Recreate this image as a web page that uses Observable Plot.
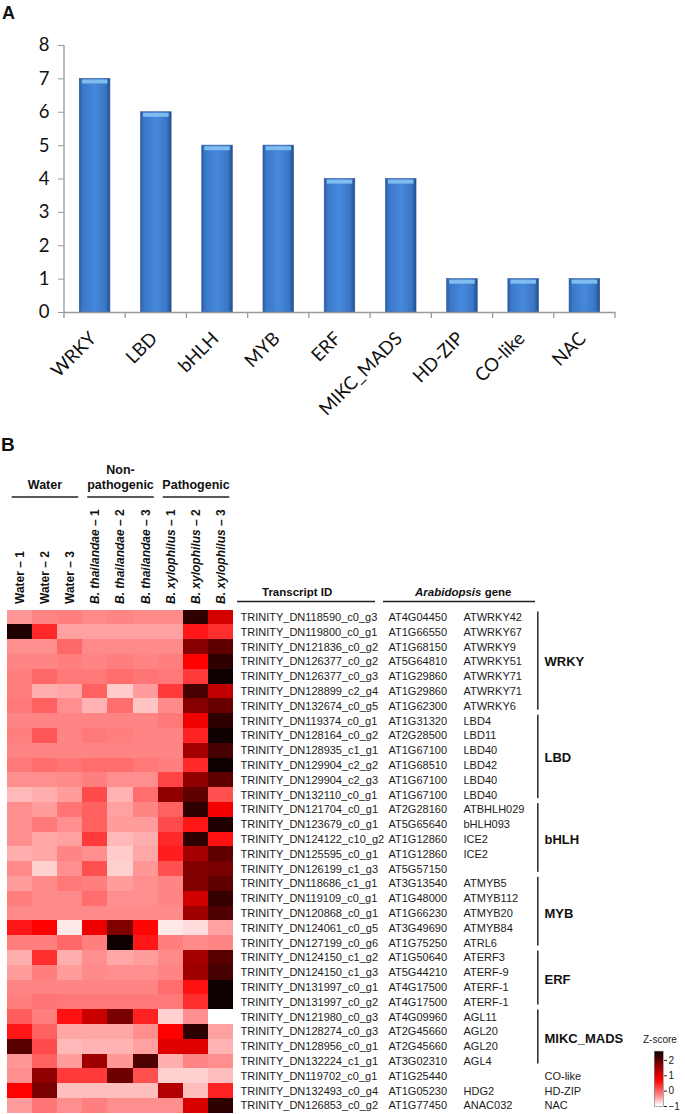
<!DOCTYPE html>
<html><head><meta charset="utf-8">
<script src="https://cdn.jsdelivr.net/npm/d3@7"></script>
<script src="https://cdn.jsdelivr.net/npm/@observablehq/plot@0.6"></script>
<style>
body{margin:0;background:#fff;}
#page{position:relative;width:685px;height:1114px;overflow:hidden;font-family:"Liberation Sans",Arial,sans-serif;}
#page svg{overflow:visible;}
</style></head><body><div id="page"></div>
<script>
// ---------- Panel A data ----------
const families = ["WRKY","LBD","bHLH","MYB","ERF","MIKC_MADS","HD-ZIP","CO-like","NAC"];
const familyCounts = [7,6,5,5,4,4,1,1,1];
const yTicksA = [0,1,2,3,4,5,6,7,8];

// ---------- Panel B data ----------
const samples = ["Water – 1","Water – 2","Water – 3","B. thailandae – 1","B. thailandae – 2","B. thailandae – 3","B. xylophilus – 1","B. xylophilus – 2","B. xylophilus – 3"];
const sampleGroup = [0,0,0,1,1,1,2,2,2];
const groupLabels = [["Water"],["Non-","pathogenic"],["Pathogenic"]];
const transcriptIds = ["TRINITY_DN118590_c0_g3","TRINITY_DN119800_c0_g1","TRINITY_DN121836_c0_g2","TRINITY_DN126377_c0_g2","TRINITY_DN126377_c0_g3","TRINITY_DN128899_c2_g4","TRINITY_DN132674_c0_g5","TRINITY_DN119374_c0_g1","TRINITY_DN128164_c0_g2","TRINITY_DN128935_c1_g1","TRINITY_DN129904_c2_g2","TRINITY_DN129904_c2_g3","TRINITY_DN132110_c0_g1","TRINITY_DN121704_c0_g1","TRINITY_DN123679_c0_g1","TRINITY_DN124122_c10_g2","TRINITY_DN125595_c0_g1","TRINITY_DN126199_c1_g3","TRINITY_DN118686_c1_g1","TRINITY_DN119109_c0_g1","TRINITY_DN120868_c0_g1","TRINITY_DN124061_c0_g5","TRINITY_DN127199_c0_g6","TRINITY_DN124150_c1_g2","TRINITY_DN124150_c1_g3","TRINITY_DN131997_c0_g1","TRINITY_DN131997_c0_g2","TRINITY_DN121980_c0_g3","TRINITY_DN128274_c0_g3","TRINITY_DN128956_c0_g1","TRINITY_DN132224_c1_g1","TRINITY_DN119702_c0_g1","TRINITY_DN132493_c0_g4","TRINITY_DN126853_c0_g2"];
const loci = ["AT4G04450","AT1G66550","AT1G68150","AT5G64810","AT1G29860","AT1G29860","AT1G62300","AT1G31320","AT2G28500","AT1G67100","AT1G68510","AT1G67100","AT1G67100","AT2G28160","AT5G65640","AT1G12860","AT1G12860","AT5G57150","AT3G13540","AT1G48000","AT1G66230","AT3G49690","AT1G75250","AT1G50640","AT5G44210","AT4G17500","AT4G17500","AT4G09960","AT2G45660","AT2G45660","AT3G02310","AT1G25440","AT1G05230","AT1G77450"];
const geneNames = ["ATWRKY42","ATWRKY67","ATWRKY9","ATWRKY51","ATWRKY71","ATWRKY71","ATWRKY6","LBD4","LBD11","LBD40","LBD42","LBD40","LBD40","ATBHLH029","bHLH093","ICE2","ICE2","","ATMYB5","ATMYB112","ATMYB20","ATMYB84","ATRL6","ATERF3","ATERF-9","ATERF-1","ATERF-1","AGL11","AGL20","AGL20","AGL4","","HDG2","ANAC032"];
const rowFamilies = ["WRKY","WRKY","WRKY","WRKY","WRKY","WRKY","WRKY","LBD","LBD","LBD","LBD","LBD","LBD","bHLH","bHLH","bHLH","bHLH","bHLH","MYB","MYB","MYB","MYB","MYB","ERF","ERF","ERF","ERF","MIKC_MADS","MIKC_MADS","MIKC_MADS","MIKC_MADS","CO-like","HD-ZIP","NAC"];
const zscores = [
 [-0.42,-0.31,-0.26,-0.35,-0.31,-0.35,-0.35,2.28,1.04],
 [2.39,0.39,-0.48,-0.48,-0.48,-0.48,-0.48,0.53,0.35],
 [-0.38,-0.38,-0.09,-0.35,-0.35,-0.35,-0.35,1.66,1.94],
 [-0.31,-0.31,-0.26,-0.31,-0.26,-0.31,-0.26,0.7,2.28],
 [-0.26,-0.09,-0.22,-0.22,-0.13,-0.18,-0.22,0.26,2.5],
 [-0.26,-0.55,-0.51,-0.04,-0.71,-0.45,0.26,2.11,1.21],
 [-0.22,-0.04,-0.38,-0.58,-0.13,-0.68,-0.35,1.66,1.88],
 [-0.31,-0.31,-0.31,-0.31,-0.31,-0.31,-0.22,0.81,2.28],
 [-0.26,0.04,-0.31,-0.22,-0.26,-0.31,-0.31,0.44,2.5],
 [-0.31,-0.31,-0.31,-0.31,-0.31,-0.31,-0.31,1.43,2.11],
 [-0.22,-0.13,-0.18,-0.13,-0.13,-0.22,-0.26,0.39,2.5],
 [-0.38,-0.38,-0.35,-0.26,-0.38,-0.38,0.18,1.6,1.94],
 [-0.61,-0.55,-0.45,0.13,-0.58,-0.13,1.6,1.94,0.09],
 [-0.38,-0.45,-0.18,-0.04,-0.48,-0.31,-0.04,2.28,0.78],
 [-0.38,-0.22,-0.38,-0.04,-0.45,-0.45,0.13,0.53,2.39],
 [-0.38,-0.51,-0.48,0.26,-0.61,-0.55,0.39,2.28,0.57],
 [-0.55,-0.51,-0.31,-0.38,-0.71,-0.51,0.48,1.43,1.94],
 [-0.35,-0.74,-0.38,0.09,-0.74,-0.42,0.09,1.71,1.77],
 [-0.45,-0.35,-0.22,-0.26,-0.45,-0.38,-0.31,1.71,1.94],
 [-0.26,-0.35,-0.35,-0.13,-0.38,-0.38,-0.31,1.07,2.22],
 [-0.35,-0.35,-0.35,-0.35,-0.35,-0.35,-0.35,1.49,2.05],
 [0.53,0.7,-0.87,0.84,1.71,0.66,-0.87,-0.8,-0.48],
 [-0.26,-0.26,-0.09,-0.26,2.5,0.53,-0.26,-0.35,-0.31],
 [-0.55,0.35,-0.55,-0.38,-0.51,-0.45,-0.35,1.43,1.99],
 [-0.45,-0.26,-0.45,-0.35,-0.38,-0.38,-0.31,1.49,2.11],
 [-0.31,-0.31,-0.31,-0.31,-0.31,-0.31,-0.13,0.57,2.5],
 [-0.26,-0.18,-0.22,-0.22,-0.22,-0.22,-0.22,0.35,2.5],
 [0,-0.26,0.57,1.15,1.77,0.44,-0.74,-0.38,-1.0],
 [0.53,-0.04,-0.51,-0.51,-0.51,-0.38,0.7,2.28,-0.48],
 [1.99,0.13,-0.61,-0.58,-0.58,-0.48,0.95,0.95,-0.58],
 [-0.42,-0.04,-0.45,1.49,-0.42,2.05,-0.55,-0.31,-0.38],
 [-0.38,1.6,0.26,0.26,1.83,0.09,-0.74,-0.74,-0.64],
 [0.7,1.77,-0.64,-0.64,-0.64,-0.64,1.32,-0.64,0.44],
 [-0.45,-0.18,-0.38,-0.26,-0.38,-0.38,-0.38,1.01,2.28]
];
const legendTicks = [-1,0,1,2];
const zDomain = [-1,-0.35,0.7,1.6,2.6];
const zRange = ["#ffffff","#ff8a8a","#ff0000","#900000","#000000"];

const FONT_B = "'Liberation Sans', Arial, sans-serif";
const page = document.getElementById("page");
function place(node, left, top){ node.style.position="absolute"; node.style.left=left+"px"; node.style.top=top+"px"; node.style.maxWidth="none"; page.appendChild(node); return node; }

// ---------- Panel A ----------
const dataA = families.map((family,i)=>({family, count: familyCounts[i]}));
const plotA = Plot.plot({
  width:685, height:410, marginLeft:64, marginRight:70, marginTop:45, marginBottom:98,
  style:{fontFamily:"Lato, 'Open Sans', sans-serif", fontSize:"18.5px", color:"#111", background:"transparent", overflow:"visible"},
  x:{domain:families, paddingInner:0.5, paddingOuter:0.25, round:false, label:null, tickRotate:-45, tickSize:0, tickPadding:16},
  y:{domain:[0,8], ticks:yTicksA, label:null, tickSize:6, tickPadding:9, tickFormat:d3.format("d")},
  marks:[
    Plot.barY(dataA,{x:"family", y:"count", fill:"url(#barGrad)", stroke:"#2a5796", strokeWidth:0.6}),
    Plot.tickY(dataA,{x:"family", y:"count", stroke:"#7fbcf0", strokeWidth:4, dy:2.6, insetLeft:2.5, insetRight:2.5}),
    Plot.ruleY([0],{stroke:"#9a9a9a", strokeWidth:1.3})
  ]
});
place(plotA, 0, 0);
{
  const svg = d3.select(plotA);
  const defs = svg.insert("defs", ":first-child");
  const g = defs.append("linearGradient").attr("id","barGrad").attr("x1",0).attr("x2",1).attr("y1",0).attr("y2",0);
  [[0,"#2b5ea8"],[0.12,"#3b78c8"],[0.5,"#4689dc"],[0.85,"#3a76c6"],[1,"#234f8e"]].forEach(([o,c])=>g.append("stop").attr("offset",o).attr("stop-color",c));
  svg.selectAll('g[aria-label="y-axis tick"]').attr("stroke","#9a9a9a");
  const lab = svg.select('g[aria-label="x-axis tick label"]');
  if (!lab.empty()) lab.attr("transform", "translate(-2,7) " + (lab.attr("transform") || ""));
  const sx = plotA.scale("x"), sy = plotA.scale("y");
  const y0 = sy.apply(0), y8 = sy.apply(8);
  const axg = svg.append("g").attr("stroke","#9a9a9a").attr("stroke-width",1.3);
  axg.append("line").attr("x1",sx.range[0]).attr("x2",sx.range[0]).attr("y1",y0).attr("y2",y8);
  for (let i=0;i<=families.length;i++){
    const x = sx.range[0] + i*sx.step;
    axg.append("line").attr("x1",x).attr("x2",x).attr("y1",y0).attr("y2",y0+6);
  }
}

// ---------- Panel B heatmap ----------
const cells = [];
transcriptIds.forEach((id,i)=>samples.forEach((s,j)=>cells.push({id, sample:s, z:zscores[i][j]})));
const HB_TOP = 455, HB_H = 659, MT = 154.5, MB = 1.3;
const colorOpts = {type:"linear", domain:zDomain, range:zRange, interpolate:"rgb"};
const plotB = Plot.plot({
  width:685, height:HB_H, marginTop:MT, marginBottom:MB, marginLeft:6.7, marginRight:451.7,
  style:{fontFamily:FONT_B, fontSize:"12px", fontWeight:"bold", color:"#111", background:"transparent", overflow:"visible"},
  x:{domain:samples, axis:"top", tickRotate:-90, tickSize:0, tickPadding:6, label:null, padding:0, round:false},
  y:{domain:transcriptIds, axis:null, padding:0, round:false},
  color:colorOpts,
  marks:[Plot.cell(cells,{x:"sample", y:"id", fill:"z", inset:0, shapeRendering:"crispEdges"})]
});
place(plotB, 0, HB_TOP);
{
  const svg = d3.select(plotB);
  svg.selectAll("text").each(function(){
    const t = this.textContent;
    if (t.startsWith("B. ")) {
      const k = t.indexOf(" – ");
      const sel = d3.select(this); sel.text("");
      sel.append("tspan").attr("font-style","italic").text(t.slice(0,k));
      sel.append("tspan").text(t.slice(k));
    }
  });
  const sx = plotB.scale("x");
  const hg = svg.append("g").attr("font-family",FONT_B).attr("font-weight","bold").attr("font-size",12.5).attr("text-anchor","middle").attr("fill","#111");
  groupLabels.forEach((lines,gi)=>{
    const idx = sampleGroup.map((g,j)=>g===gi?j:-1).filter(j=>j>=0);
    const x1 = sx.apply(samples[idx[0]]) + 5, x2 = sx.apply(samples[idx[idx.length-1]]) + sx.bandwidth - 4;
    hg.append("line").attr("x1",x1).attr("x2",x2).attr("y1",42).attr("y2",42).attr("stroke","#222").attr("stroke-width",1.4);
    lines.forEach((ln,li)=>hg.append("text").attr("x",(x1+x2)/2).attr("y",34 - (lines.length-1-li)*15).text(ln));
  });
}

// ---------- Table columns ----------
const rows = transcriptIds.map((id,i)=>({index:i, id, locus:loci[i], gene:geneNames[i]}));
function column(left, width, marks){
  const p = Plot.plot({
    width, height:HB_H, marginTop:MT, marginBottom:MB, marginLeft:0, marginRight:0,
    y:{domain:[-0.5, transcriptIds.length-0.5], reverse:true, axis:null},
    style:{fontFamily:FONT_B, fontSize:"11px", color:"#1a1a1a", background:"transparent", overflow:"visible"},
    marks
  });
  return place(p, left, HB_TOP);
}
column(240, 146, [Plot.text(rows,{y:"index", text:"id", frameAnchor:"left", textAnchor:"start", fill:"#1a1a1a"})]);
column(388, 72, [Plot.text(rows,{y:"index", text:"locus", frameAnchor:"left", textAnchor:"start", fill:"#1a1a1a"})]);
column(463, 72, [Plot.text(rows,{y:"index", text:"gene", frameAnchor:"left", textAnchor:"start", fill:"#1a1a1a"})]);
const famGroups = d3.groups(rows.map((r,i)=>({fam:rowFamilies[i], index:i})), d=>d.fam)
  .map(([fam,arr])=>({fam, start:arr[0].index, end:arr[arr.length-1].index, mid:(arr[0].index+arr[arr.length-1].index)/2, multi:arr.length>1}));
const multiGroups = famGroups.filter(d=>d.multi), singleGroups = famGroups.filter(d=>!d.multi);
column(537.3, 1.6, [Plot.rect(multiGroups,{y1:d=>d.start-0.5, y2:d=>d.end+0.5, insetTop:2.5, insetBottom:2.5, fill:"#333"})]);
column(544, 140, [
  Plot.text(multiGroups,{y:"mid", text:"fam", frameAnchor:"left", textAnchor:"start", fontWeight:"bold", fontSize:13, fill:"#111"}),
  Plot.text(singleGroups,{y:"mid", text:"fam", frameAnchor:"left", textAnchor:"start", fontSize:11, fill:"#1a1a1a"})
]);

// ---------- Legend ----------
const steps = d3.range(-1, 2.6, 0.05);
const legend = Plot.plot({
  width:35, height:66, marginTop:4.7, marginBottom:6, marginLeft:4, marginRight:22,
  y:{domain:[-1,2.6], axis:"right", ticks:legendTicks, tickSize:3, tickPadding:2, label:null, tickFormat:d => d < 0 ? "\u2212" + Math.abs(d) : String(d)},
  color:colorOpts,
  style:{fontFamily:FONT_B, fontSize:"10px", color:"#222", background:"transparent", overflow:"visible"},
  marks:[Plot.rect(steps,{y1:d=>d, y2:d=>d+0.06, fill:d=>d, shapeRendering:"crispEdges"}), Plot.frame({stroke:"#888", strokeWidth:0.7})]
});
place(legend, 650, 1046);

// ---------- Static labels ----------
const ov = d3.select(page).append("svg").attr("width",685).attr("height",1114)
  .style("position","absolute").style("left","0px").style("top","0px").style("pointer-events","none")
  .attr("font-family",FONT_B).attr("fill","#111");
ov.append("text").attr("x",2).attr("y",19).attr("font-size",18).attr("font-weight","bold").text("A");
ov.append("text").attr("x",1).attr("y",451).attr("font-size",19).attr("font-weight","bold").text("B");
ov.append("text").attr("x",262).attr("y",596).attr("font-size",11.5).attr("font-weight","bold").text("Transcript ID");
const ag = ov.append("text").attr("x",415).attr("y",596).attr("font-size",11.5).attr("font-weight","bold");
ag.append("tspan").attr("font-style","italic").text("Arabidopsis");
ag.append("tspan").text(" gene");
ov.append("line").attr("x1",237).attr("x2",375).attr("y1",601.5).attr("y2",601.5).attr("stroke","#222").attr("stroke-width",1.4);
ov.append("line").attr("x1",383).attr("x2",535).attr("y1",601.5).attr("y2",601.5).attr("stroke","#222").attr("stroke-width",1.4);
ov.append("text").attr("x",643).attr("y",1043).attr("font-size",10).attr("fill","#222").text("Z-score");
</script></body></html>
